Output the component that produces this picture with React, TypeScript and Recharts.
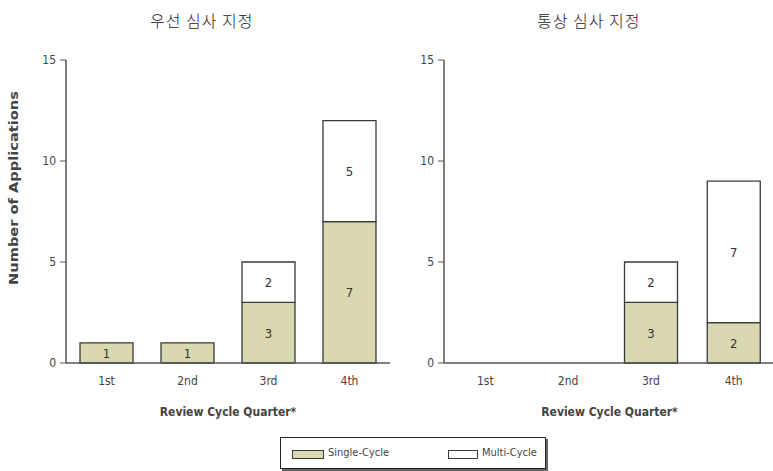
import React from "react";
import { BarChart, Bar, XAxis, YAxis, LabelList } from "recharts";

const quarters = ["1st", "2nd", "3rd", "4th"];
const prioritySingle = [1, 1, 3, 7];
const priorityMulti = [0, 0, 2, 5];
const standardSingle = [0, 0, 3, 2];
const standardMulti = [0, 0, 2, 7];
const yTicks = [0, 5, 10, 15];

const FONT = "'Liberation Sans Narrow', 'DejaVu Sans Condensed', 'Liberation Sans', sans-serif";
const SINGLE_FILL = "#d9d8b0";
const STROKE = "#3a3a3a";

const buildRows = (single: number[], multi: number[]) =>
    quarters.map((quarter, i) => ({
        quarter,
        single: single[i],
        multi: multi[i],
        total: single[i] + multi[i],
    }));

const priorityRows = buildRows(prioritySingle, priorityMulti);
const standardRows = buildRows(standardSingle, standardMulti);

// value written in the middle of a segment, skipped when empty
const InsideLabel = (props: any) => {
    const { x, y, width, height, value } = props;
    if (!value) return null;
    return (
        <text
            x={x + width / 2}
            y={y + height / 2 + 5}
            textAnchor="middle"
            fontFamily={FONT}
            fontSize={13}
            fill="#333"
        >
            {value}
        </text>
    );
};

interface PanelProps {
    rows: ReturnType<typeof buildRows>;
    width: number;
    axisWidth: number;
    showYLabel: boolean;
}

function Panel({ rows, width, axisWidth, showYLabel }: PanelProps) {
    // stack total above the bar, only where there is a multi-cycle part
    const TotalLabel = (props: any) => {
        const { x, y, width: w, index } = props;
        const row = rows[index];
        if (!row || !row.multi) return null;
        return (
            <text
                x={x + w / 2}
                y={y - 7}
                textAnchor="middle"
                fontFamily={FONT}
                fontSize={13}
                fill="#333"
            >
                {row.total}
            </text>
        );
    };

    return (
        <BarChart
            width={width}
            height={420}
            data={rows}
            margin={{ top: 60, right: 0, left: 0, bottom: 0 }}
        >
            <XAxis
                dataKey="quarter"
                height={57}
                tickLine={false}
                tickSize={8}
                tickMargin={5}
                axisLine={{ stroke: "#555", strokeWidth: 1.5 }}
                tick={{ fontFamily: FONT, fontSize: 12, fill: "#444" }}
                label={{
                    value: "Review Cycle Quarter*",
                    position: "insideBottom",
                    offset: 4,
                    fontFamily: FONT,
                    fontSize: 12,
                    fontWeight: "bold",
                    fill: "#444",
                }}
            />
            <YAxis
                width={axisWidth}
                domain={[0, 15]}
                ticks={yTicks}
                tickSize={6}
                tickMargin={4}
                axisLine={{ stroke: "#555", strokeWidth: 1.5 }}
                tickLine={{ stroke: "#555" }}
                tick={{ fontFamily: FONT, fontSize: 12, fill: "#444" }}
                label={
                    showYLabel
                        ? {
                              content: () => (
                                  <text
                                      x={18}
                                      y={188}
                                      transform="rotate(-90, 18, 188)"
                                      textAnchor="middle"
                                      textLength={194}
                                      lengthAdjust="spacingAndGlyphs"
                                      fontFamily={FONT}
                                      fontSize={12}
                                      fontWeight="bold"
                                      fill="#444"
                                  >
                                      Number of Applications
                                  </text>
                              ),
                          }
                        : undefined
                }
            />
            <Bar
                dataKey="single"
                stackId="q"
                fill={SINGLE_FILL}
                stroke={STROKE}
                strokeWidth={1.3}
                barSize={53}
                isAnimationActive={false}
            >
                <LabelList dataKey="single" content={InsideLabel} />
            </Bar>
            <Bar
                dataKey="multi"
                stackId="q"
                fill="#ffffff"
                stroke={STROKE}
                strokeWidth={1.3}
                barSize={53}
                isAnimationActive={false}
            >
                <LabelList dataKey="multi" content={InsideLabel} />
                <LabelList dataKey="total" content={TotalLabel} />
            </Bar>
        </BarChart>
    );
}

const titleStyle: React.CSSProperties = {
    position: "absolute",
    top: 8,
    fontFamily: "'Noto Sans CJK KR', sans-serif",
    fontSize: 16,
    fontWeight: 300,
    color: "#222",
    letterSpacing: 1,
    whiteSpace: "nowrap",
};

export default function App() {
    return (
        <div
            style={{
                position: "absolute",
                left: 0,
                top: 0,
                width: 773,
                height: 471,
                overflow: "hidden",
                background: "#fff",
            }}
        >
            <div style={{ ...titleStyle, left: 150 }}>우선 심사 지정</div>
            <div style={{ ...titleStyle, left: 537 }}>통상 심사 지정</div>

            <div style={{ position: "absolute", left: 0, top: 0 }}>
                <Panel rows={priorityRows} width={390} axisWidth={66} showYLabel />
            </div>
            <div style={{ position: "absolute", left: 390, top: 0 }}>
                <Panel rows={standardRows} width={385} axisWidth={54} showYLabel={false} />
            </div>

            <div
                style={{
                    position: "absolute",
                    left: 280,
                    top: 437,
                    width: 264,
                    height: 30,
                    border: "1.5px solid #222",
                    boxShadow: "2px 2px 0 #666",
                    fontFamily: FONT,
                    fontSize: 11,
                    color: "#444",
                }}
            >
                <div
                    style={{
                        position: "absolute",
                        left: 11,
                        top: 12,
                        width: 30,
                        height: 7,
                        background: SINGLE_FILL,
                        border: `1px solid ${STROKE}`,
                    }}
                />
                <div style={{ position: "absolute", left: 47, top: 8 }}>Single-Cycle</div>
                <div
                    style={{
                        position: "absolute",
                        left: 167,
                        top: 12,
                        width: 28,
                        height: 7,
                        background: "#fff",
                        border: `1px solid ${STROKE}`,
                    }}
                />
                <div style={{ position: "absolute", left: 201, top: 8 }}>Multi-Cycle</div>
            </div>
        </div>
    );
}
